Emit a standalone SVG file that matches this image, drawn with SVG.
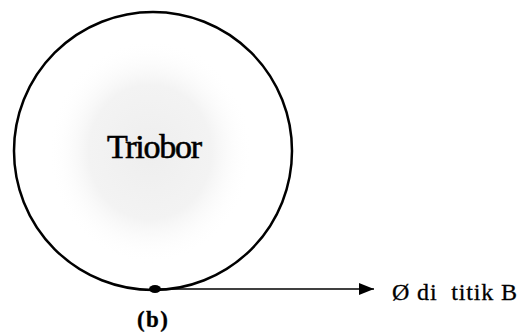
<svg xmlns="http://www.w3.org/2000/svg" width="520" height="332" viewBox="0 0 520 332">
  <style>
    .outline { fill: none; stroke: #000; stroke-width: 2.5; }
    .serif { font-family: "Liberation Serif", "Times New Roman", serif; fill: #000; stroke: #000; }
    .conn { stroke: #000; stroke-width: 1.5; fill: none; }
  </style>
  <defs>
    <radialGradient id="stipple" cx="0.5" cy="0.5" r="0.5">
      <stop offset="0" stop-color="#eeeeee"/>
      <stop offset="0.6" stop-color="#f3f3f3"/>
      <stop offset="1" stop-color="#ffffff" stop-opacity="0"/>
    </radialGradient>
    <marker id="arrow" markerWidth="16" markerHeight="12" refX="15" refY="6" orient="auto" markerUnits="userSpaceOnUse">
      <path d="M0,0 L15,6 L0,12 Z" fill="#000"/>
    </marker>
  </defs>
  <g id="triobor">
    <ellipse cx="150" cy="152" rx="102" ry="112" fill="url(#stipple)"/>
    <circle class="outline" cx="153" cy="151" r="139"/>
    <text class="serif" x="107" y="158" font-size="34" stroke-width="0.6" textLength="95">Triobor</text>
  </g>
  <g id="pointB">
    <ellipse cx="155" cy="289" rx="6" ry="4" fill="#000"/>
    <text class="serif" x="137" y="327" font-size="23" font-weight="bold" stroke-width="0.3" textLength="31">(b)</text>
  </g>
  <g id="label">
    <text class="serif" x="392" y="300" font-size="24" stroke-width="0.3" textLength="125" xml:space="preserve">Ø di  titik B</text>
  </g>
  <g id="connectors">
    <line class="conn" x1="158" y1="289" x2="374" y2="289" marker-end="url(#arrow)"/>
  </g>
</svg>
